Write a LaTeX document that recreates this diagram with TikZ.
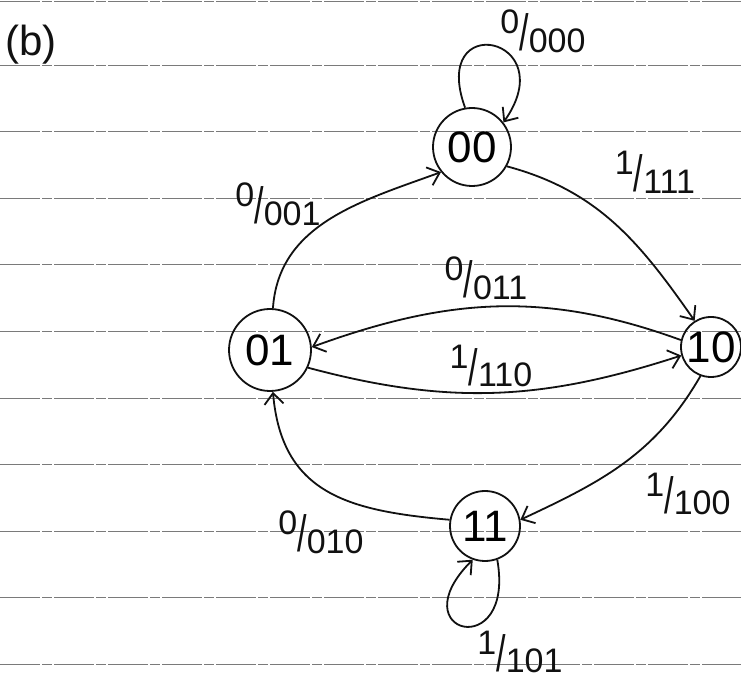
\documentclass[tikz,border=0pt]{standalone}
\usepackage{fontspec}
\setmainfont{Liberation Sans}
\usetikzlibrary{arrows.meta}
\definecolor{ink}{HTML}{111111}
\definecolor{ruling}{HTML}{7A7A7A}
\newcommand{\statefont}{\fontsize{44}{48}\selectfont}
\newcommand{\labelfont}{\fontsize{34}{38}\selectfont}
\newcommand{\io}[2]{\raisebox{0.3em}{#1}\raisebox{-0.2em}{\scalebox{1}[1.5]{/}}\raisebox{-0.25em}{#2}}

\begin{document}
\begin{tikzpicture}[x=1pt,y=1pt,>={Straight Barb[length=11pt,width=19pt]}]
  \path[use as bounding box,fill=white] (0,0) rectangle (741,688);
  \tikzset{
    ruled/.style={draw=ruling,line width=0.9pt,dash pattern=on 40pt off 2pt on 10pt off 2pt},
    state/.style={circle,draw=ink,line width=1.8pt,inner sep=0pt,font=\statefont},
    trans/.style={->,draw=ink,line width=1.8pt},
    lbl/.style={inner sep=1pt,font=\labelfont,text=ink}
  }
  % paper rulings
  \draw[ruled] (0,687) -- (741,687);
  \foreach \k in {0,...,9}
    \draw[ruled] (0,{623-66.6*\k}) -- (741,{623-66.6*\k});

  \node[font=\fontsize{42}{46}\selectfont,text=ink] (tag) at (31,643) {(b)};

  \node[state,minimum size=78pt] (s00) at (472,541) {00};
  \node[state,minimum size=82pt] (s01) at (270,338) {01};
  \node[state,minimum size=60pt] (s10) at (711,341) {10};
  \node[state,minimum size=70pt] (s11) at (485,162) {11};

  \node[lbl] (l000) at (543,657) {\io{0}{000}};
  \node[lbl] (l111) at (655,516) {\io{1}{111}};
  \node[lbl] (l001) at (278,484) {\io{0}{001}};
  \node[lbl] (l011) at (486,410) {\io{0}{011}};
  \node[lbl] (l110) at (491,322) {\io{1}{110}};
  \node[lbl] (l100) at (688,194) {\io{1}{100}};
  \node[lbl] (l010) at (321,156) {\io{0}{010}};
  \node[lbl] (l101) at (520,36) {\io{1}{101}};

  \draw[trans] (s00.100) .. controls +(110:105) and +(55:105) .. (s00.38);
  \draw[trans] (s01.86) to[out=86,in=200] (s00.219);
  \draw[trans] (s00.-29) to[out=-15,in=125] (s10.122);
  \draw[trans] (s10.167) to[out=160,in=20] (s01.4);
  \draw[trans] (s01.-25) to[out=-15,in=198] (s10.196);
  \draw[trans] (s10.250) to[out=240,in=25] (s11.10);
  \draw[trans] (s11.170) to[out=175,in=275,looseness=1.2] (s01.274);
  \draw[trans] (s11.-70) .. controls +(-80:105) and +(225:105) .. (s11.250);
\end{tikzpicture}
\end{document}
